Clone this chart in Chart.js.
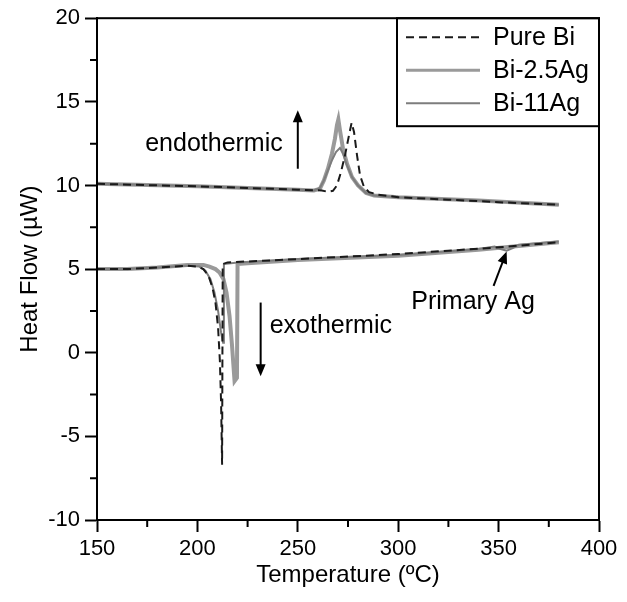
<!DOCTYPE html>
<html>
<head>
<meta charset="utf-8">
<script src="https://cdn.jsdelivr.net/npm/chart.js@4.4.0/dist/chart.umd.min.js"></script>
<style>
html, body { margin: 0; padding: 0; background: #fff; }
#wrap { width: 627px; height: 602px; }
</style>
</head>
<body>
<div id="wrap"><canvas id="myChart"></canvas></div>
<script>
// heating runs (upper curves), temperature in ºC and heat flow in µW
const pureBiHeatT = [150, 175, 200, 225, 250, 262, 265, 267.5, 269.5, 271.5, 273.5, 275.5, 276.8, 278, 279.5, 281, 283, 285.5, 290, 300, 325, 350, 380];
const pureBiHeatY = [10.1, 10.02, 9.95, 9.85, 9.75, 9.7, 9.62, 9.68, 10.0, 10.8, 11.8, 13.0, 13.75, 13.2, 11.8, 10.6, 9.9, 9.6, 9.45, 9.3, 9.15, 9.0, 8.85];
const bi25HeatT = [150, 200, 250, 258, 261, 263, 265, 267, 268.5, 269.5, 270.2, 271, 272.5, 274.5, 277, 280, 284, 288, 300, 340, 380];
const bi25HeatY = [10.1, 9.95, 9.75, 9.7, 9.8, 10.3, 11.0, 11.9, 12.8, 13.6, 13.95, 13.3, 12.2, 11.3, 10.5, 10.0, 9.55, 9.4, 9.3, 9.1, 8.85];
const bi11HeatT = [150, 200, 250, 258, 261, 263, 265, 267, 269, 271, 272.5, 274.5, 277, 280, 284, 288, 300, 340, 380];
const bi11HeatY = [10.1, 9.95, 9.75, 9.7, 9.85, 10.3, 10.9, 11.5, 12.0, 12.25, 11.9, 11.2, 10.5, 10.0, 9.55, 9.4, 9.3, 9.1, 8.85];

// cooling runs (lower curves)
const pureBiCoolT = [150, 165, 180, 195, 200, 203, 205.5, 207.5, 209, 210.3, 211.2, 211.8, 212.3, 212.6, 215, 250, 300, 350, 380];
const pureBiCoolY = [5.0, 5.0, 5.1, 5.2, 5.15, 5.0, 4.6, 3.9, 3.0, 1.5, -0.5, -3.0, -6.7, 5.3, 5.4, 5.6, 5.9, 6.3, 6.6];
const bi25CoolT = [150, 165, 180, 195, 203, 206, 209, 211, 213, 214.5, 216, 217.2, 218.5, 219.7, 220.0, 225, 250, 300, 340, 380];
const bi25CoolY = [5.0, 5.0, 5.1, 5.25, 5.25, 5.15, 5.0, 4.8, 4.4, 3.6, 2.2, 0.5, -1.7, -1.5, 5.3, 5.35, 5.55, 5.8, 6.15, 6.6];
const bi11CoolT = [150, 165, 180, 195, 201, 204, 206.5, 208.5, 210.3, 211.8, 212.8, 213.2, 220, 250, 300, 340, 348, 351, 354, 357, 360, 380];
const bi11CoolY = [5.0, 5.0, 5.1, 5.2, 5.15, 4.9, 4.4, 3.6, 2.5, 1.2, 0.6, 5.3, 5.4, 5.6, 5.85, 6.2, 6.35, 6.2, 6.1, 6.25, 6.45, 6.65];

const seriesNames = ['Pure Bi', 'Bi-2.5Ag', 'Bi-11Ag'];
const xTicks = [150, 200, 250, 300, 350, 400];
const yTicks = [-10, -5, 0, 5, 10, 15, 20];

function toPoints(heatT, heatY, coolT, coolY) {
    const pts = heatT.map((t, i) => ({x: t, y: heatY[i]}));
    pts.push({x: heatT[heatT.length - 1], y: null}); // break between runs
    coolT.forEach((t, i) => pts.push({x: t, y: coolY[i]}));
    return pts;
}

const FONT = 'Liberation Sans, Arial, sans-serif';

const notes = [
    {text: 'endothermic', x: 242.5, y: 12.5, align: 'right'},
    {text: 'exothermic', x: 236, y: 1.6, align: 'left'},
    {text: 'Primary Ag', x: 306.5, y: 3.0, align: 'left'}
];
const arrows = [
    {from: [250, 11.0], to: [250, 14.5]},
    {from: [231.5, 3.0], to: [231.5, -1.4]},
    {from: [347.5, 4.0], to: [354, 6.05]}
];

// frame, minor ticks, arrows, labels and the boxed legend
const extras = {
    id: 'extras',
    afterDraw(chart) {
        const {ctx, chartArea: a, scales: {x, y}} = chart;
        ctx.save();
        ctx.strokeStyle = '#000';
        ctx.lineWidth = 2;
        ctx.strokeRect(a.left, a.top, a.right - a.left, a.bottom - a.top);

        ctx.beginPath();
        for (let t = 175; t < 400; t += 50) {
            const px = x.getPixelForValue(t);
            ctx.moveTo(px, a.bottom);
            ctx.lineTo(px, a.bottom + 7);
        }
        for (let v = -7.5; v < 20; v += 5) {
            const py = y.getPixelForValue(v);
            ctx.moveTo(a.left, py);
            ctx.lineTo(a.left - 7, py);
        }
        ctx.stroke();

        ctx.fillStyle = '#000';
        arrows.forEach(ar => {
            const x0 = x.getPixelForValue(ar.from[0]), y0 = y.getPixelForValue(ar.from[1]);
            const x1 = x.getPixelForValue(ar.to[0]), y1 = y.getPixelForValue(ar.to[1]);
            const ang = Math.atan2(y1 - y0, x1 - x0);
            ctx.lineWidth = 2;
            ctx.beginPath();
            ctx.moveTo(x0, y0);
            ctx.lineTo(x1 - 8 * Math.cos(ang), y1 - 8 * Math.sin(ang));
            ctx.stroke();
            ctx.beginPath();
            ctx.moveTo(x1, y1);
            ctx.lineTo(x1 - 12 * Math.cos(ang) + 5 * Math.sin(ang), y1 - 12 * Math.sin(ang) - 5 * Math.cos(ang));
            ctx.lineTo(x1 - 12 * Math.cos(ang) - 5 * Math.sin(ang), y1 - 12 * Math.sin(ang) + 5 * Math.cos(ang));
            ctx.closePath();
            ctx.fill();
        });

        ctx.font = '25px ' + FONT;
        ctx.textBaseline = 'middle';
        notes.forEach(n => {
            ctx.textAlign = n.align;
            ctx.fillText(n.text, x.getPixelForValue(n.x), y.getPixelForValue(n.y));
        });

        // legend box in the top right corner
        const bw = 202, bh = 108;
        const bx = a.right - bw, by = a.top;
        ctx.lineWidth = 2;
        ctx.strokeRect(bx, by, bw, bh);
        ctx.font = '25px ' + FONT;
        ctx.textAlign = 'left';
        chart.data.datasets.forEach((ds, i) => {
            const ly = by + 19 + i * 33;
            ctx.save();
            ctx.strokeStyle = ds.borderColor;
            ctx.lineWidth = i === 1 ? 3 : ds.borderWidth;
            ctx.setLineDash(ds.borderDash || []);
            ctx.beginPath();
            ctx.moveTo(bx + 9, ly);
            ctx.lineTo(bx + 83, ly);
            ctx.stroke();
            ctx.restore();
            ctx.fillText(ds.label, bx + 96, ly + 1);
        });
        ctx.restore();
    }
};

const chartTarget = document.querySelector('#myChart');
const chart = new Chart(chartTarget, {
    type: 'line',
    data: {
        datasets: [{
            label: seriesNames[0],
            data: toPoints(pureBiHeatT, pureBiHeatY, pureBiCoolT, pureBiCoolY),
            borderColor: '#1a1a1a',
            borderWidth: 2,
            borderDash: [8, 5],
            order: 1
        }, {
            label: seriesNames[1],
            data: toPoints(bi25HeatT, bi25HeatY, bi25CoolT, bi25CoolY),
            borderColor: '#9a9a9a',
            borderWidth: 4,
            order: 3
        }, {
            label: seriesNames[2],
            data: toPoints(bi11HeatT, bi11HeatY, bi11CoolT, bi11CoolY),
            borderColor: '#7d7d7d',
            borderWidth: 2,
            order: 2
        }]
    },
    options: {
        responsive: true,
        maintainAspectRatio: false,
        animation: false,
        layout: {padding: {top: 18, right: 28, left: 0, bottom: 0}},
        elements: {point: {radius: 0}, line: {tension: 0, fill: false}},
        plugins: {legend: {display: false}, tooltip: {enabled: false}},
        scales: {
            x: {
                type: 'linear',
                min: 150,
                max: 400,
                afterFit: s => { s.height = 82; },
                afterBuildTicks: s => { s.ticks = xTicks.map(v => ({value: v})); },
                ticks: {color: '#000', font: {family: FONT, size: 22}, padding: 4, maxRotation: 0},
                grid: {drawOnChartArea: false, tickLength: 12, tickWidth: 2, tickColor: '#000'},
                border: {color: '#000', width: 2},
                title: {display: true, text: 'Temperature (ºC)', color: '#000', font: {family: FONT, size: 24}, padding: {top: 0, bottom: 12}}
            },
            y: {
                min: -10,
                max: 20,
                afterFit: s => { s.width = 97; },
                afterBuildTicks: s => { s.ticks = yTicks.map(v => ({value: v})); },
                ticks: {color: '#000', font: {family: FONT, size: 22}, padding: 5},
                grid: {drawOnChartArea: false, tickLength: 12, tickWidth: 2, tickColor: '#000'},
                border: {color: '#000', width: 2},
                title: {display: true, text: 'Heat Flow (µW)', color: '#000', font: {family: FONT, size: 24}, padding: {top: 16, bottom: 0}}
            }
        }
    },
    plugins: [extras]
});
</script>
</body>
</html>
